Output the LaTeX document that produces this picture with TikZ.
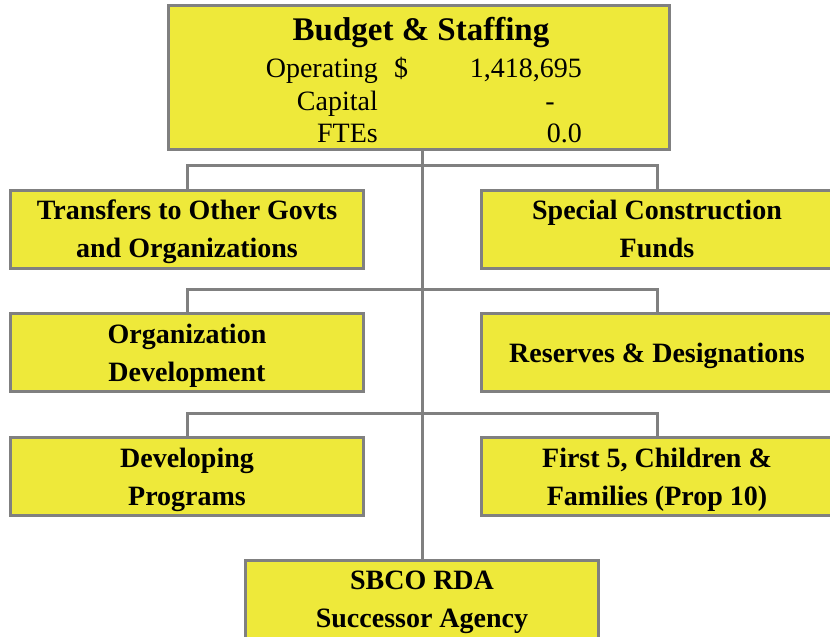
\documentclass[tikz,border=0pt]{standalone}
\usepackage{fontspec}
\setmainfont{Liberation Serif}
\begin{document}
\begin{tikzpicture}[x=1pt, y=-1pt]
    % Box and line colours
    \definecolor{boxfill}{RGB}{238, 233, 58}    % Yellow fill
    \definecolor{linegray}{RGB}{128, 128, 128}  % Grey borders and links

    \tikzset{
        unitbox/.style={draw=linegray, line width=3pt, fill=boxfill, align=center,
            minimum width=353pt, minimum height=78pt, inner sep=0pt, text depth=0pt,
            font=\bfseries\fontsize{28}{38}\selectfont},
        figtext/.style={inner sep=0pt, font=\fontsize{28}{32}\selectfont},
        linkline/.style={draw=linegray, line width=3pt}
    }

    % Page area
    \clip (0,0) rectangle (830,637);

    % Summary box at the top
    \node[unitbox, minimum width=501pt, minimum height=144pt] (budget) at (418.5,77) {};
    \node[anchor=base, inner sep=0pt, font=\bfseries\fontsize{33}{38}\selectfont] (title) at (421,40) {Budget \& Staffing};
    \node[figtext, anchor=base east] (oplabel) at (378,77) {Operating};
    \node[figtext, anchor=base west] (opsign) at (394,77) {\$};
    \node[figtext, anchor=base east] (opvalue) at (582,77) {1,418,695};
    \node[figtext, anchor=base east] (caplabel) at (378,110) {Capital};
    \node[figtext, anchor=base] (capvalue) at (550,110) {-};
    \node[figtext, anchor=base east] (ftelabel) at (378,142) {FTEs};
    \node[figtext, anchor=base east] (ftevalue) at (582,142) {0.0};

    % Left column
    \node[unitbox] (transfers) at (187,229) {Transfers to Other Govts\\and Organizations};
    \node[unitbox] (orgdev) at (187,352.5) {Organization\\Development};
    \node[unitbox] (devprog) at (187,476.5) {Developing\\Programs};

    % Right column
    \node[unitbox, minimum width=352pt] (construction) at (657,229) {Special Construction\\Funds};
    \node[unitbox, minimum width=352pt] (reserves) at (657,352.5) {Reserves \& Designations};
    \node[unitbox, minimum width=352pt] (first5) at (657,476.5) {First 5, Children \&\\Families (Prop 10)};

    % Bottom box
    \node[unitbox] (sbco) at (422,599) {SBCO RDA\\Successor Agency};

    % Connectors
    \draw[linkline] (budget.south -| sbco.north) -- (sbco.north);
    \draw[linkline] (transfers.north) -- ++(0,-23) -| (construction.north);
    \draw[linkline] (orgdev.north) -- ++(0,-23) -| (reserves.north);
    \draw[linkline] (devprog.north) -- ++(0,-23) -| (first5.north);
\end{tikzpicture}
\end{document}
